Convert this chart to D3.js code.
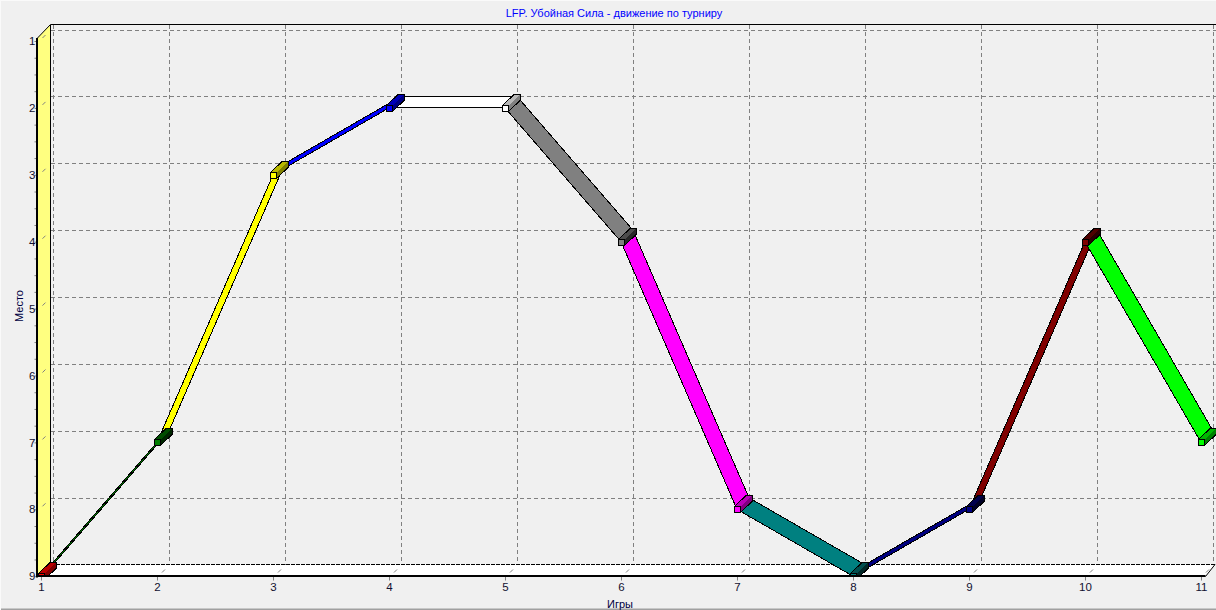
<!DOCTYPE html>
<html>
<head>
<meta charset="utf-8">
<script src="https://cdn.jsdelivr.net/npm/d3@7/dist/d3.min.js"></script>
<style>
html,body{margin:0;padding:0;background:#f0f0f0;overflow:hidden}
svg{display:block}
text{font-family:"Liberation Sans",Arial,sans-serif}
</style>
</head>
<body>
<svg id="chart" width="1216" height="610"></svg>
<script>
const games = [1,2,3,4,5,6,7,8,9,10,11];
const places = [9,7,3,2,2,4,8,9,8,4,7];
const pointColors = ["#ff0000","#008000","#ffff00","#0000ff","#ffffff","#808080","#ff00ff","#008080","#000080","#800000","#00ff00"];
const placeTicks = [1,2,3,4,5,6,7,8,9];
const titleText = "LFP. Убойная Сила - движение по турниру";
const xTitleText = "Игры";
const yTitleText = "Место";

const W = 1216, H = 610;
const dx = 12, dy = -11.5;             // depth of the 3D ribbon
const wallDx = 13.5, wallDy = -12;     // depth of the chart box
const x = d3.scaleLinear().domain([1,11]).range([41,1201]);
const y = d3.scaleLinear().domain([1,9]).range([41,576.2]);
const svg = d3.select("#chart");

const left = 37.5, right = 1205.5, top0 = 38, bottom = 576.5;
const backL = left + wallDx - .5, backT = 24.5, backB = bottom + wallDy;

svg.append("defs").append("clipPath").attr("id","plot")
  .append("rect").attr("x",0).attr("y",0).attr("width",W).attr("height",575.5);

// frame edge of the window
svg.append("rect").attr("width",W).attr("height",H).attr("fill","#f0f0f0");
svg.append("rect").attr("x",0).attr("y",608.5).attr("width",W).attr("height",1.5).attr("fill","#a0a0a0");
svg.append("rect").attr("x",0).attr("y",0).attr("width",W).attr("height",1).attr("fill","#fafafa");
svg.append("rect").attr("x",0).attr("y",0).attr("width",1).attr("height",H).attr("fill","#fafafa");

// walls
svg.append("path").attr("fill","#ffff80").attr("stroke","#000")
  .attr("d",`M${left},${top0}L${backL},${backT}L${backL},${backB}L${left},${bottom}Z`);
svg.append("path").attr("fill","#fff").attr("stroke","none")
  .attr("d",`M${left},${bottom}L${backL},${backB}L${W},${backB}L${right},${bottom}Z`);

// grid on the back plane
const grid = svg.append("g").attr("fill","none").attr("stroke","#808080")
  .attr("stroke-dasharray","4,3").attr("shape-rendering","crispEdges");
grid.selectAll("line.v").data(games).join("line").attr("class","v")
  .attr("x1",d=>Math.round(x(d)+dx)+.5).attr("x2",d=>Math.round(x(d)+dx)+.5)
  .attr("y1",backT).attr("y2",backB);
grid.selectAll("line.h").data(placeTicks.slice(0,-1)).join("line").attr("class","h")
  .attr("x1",backL).attr("x2",W)
  .attr("y1",d=>Math.round(y(d)+dy)+.5).attr("y2",d=>Math.round(y(d)+dy)+.5);

// back edges
svg.append("line").attr("x1",backL).attr("x2",W).attr("y1",backT).attr("y2",backT)
  .attr("stroke","#000").attr("shape-rendering","crispEdges");
svg.append("line").attr("x1",backL).attr("x2",W).attr("y1",backB).attr("y2",backB)
  .attr("stroke","#000").attr("stroke-dasharray","4,1").attr("shape-rendering","crispEdges");
svg.append("line").attr("x1",right).attr("x2",W-1).attr("y1",bottom).attr("y2",backB).attr("stroke","#000");

// small diagonal ticks across the walls
const diag = svg.append("g").attr("stroke","#808080").attr("fill","none");
diag.selectAll("line.dy").data(placeTicks).join("line").attr("class","dy")
  .attr("x1",d=>left+5).attr("y1",d=>y(d)-3).attr("x2",d=>left+8).attr("y2",d=>y(d)-6);
diag.selectAll("line.dx").data(games).join("line").attr("class","dx")
  .attr("x1",d=>x(d)+5).attr("y1",bottom-4).attr("x2",d=>x(d)+8).attr("y2",bottom-7);

const series = svg.append("g").attr("clip-path","url(#plot)").attr("shape-rendering","crispEdges");

// ribbons, coloured by the point they lead to
const pts = games.map((g,i)=>({g,p:places[i],c:pointColors[i]}));
const ribbon = series.append("g").attr("stroke","#000").attr("stroke-width",1);
ribbon.selectAll("path").data(pts.slice(1)).join("path")
  .attr("fill",d=>d.c)
  .attr("d",(d,i)=>{
    const a = pts[i];
    const x0=x(a.g), y0=y(a.p), x1=x(d.g), y1=y(d.p);
    return `M${x0},${y0}L${x0+dx},${y0+dy}L${x1+dx},${y1+dy}L${x1},${y1}Z`;
  });

// box markers
const shade = (c,k)=>{ const o=d3.rgb(c); return d3.rgb(o.r*k,o.g*k,o.b*k).formatHex(); };
const isDark = c=>{ const o=d3.rgb(c); return Math.max(o.r,o.g,o.b)<=128; };
const s = 3;
const box = series.append("g").selectAll("g").data(pts).join("g")
  .attr("transform",d=>`translate(${Math.round(x(d.g))+.5},${Math.round(y(d.p))+.5})`);
box.append("path").attr("fill",d=>shade(d.c,isDark(d.c)?.6:.72))
  .attr("d",`M${-s},${-s}L${-s+dx},${-s+dy}L${s+dx},${-s+dy}L${s},${-s}Z`);
box.append("path").attr("fill",d=>shade(d.c,isDark(d.c)?.3:.5))
  .attr("d",`M${s},${-s}L${s+dx},${-s+dy}L${s+dx},${s+dy}L${s},${s}Z`);
box.append("path").attr("fill","none").attr("stroke","#000")
  .attr("d",`M${-s},${-s}L${-s+dx},${-s+dy}L${s+dx},${-s+dy}L${s+dx},${s+dy}L${s},${s}`);
box.append("rect").attr("x",-s).attr("y",-s).attr("width",2*s).attr("height",2*s)
  .attr("fill",d=>d.c).attr("stroke","#000");

// axes
const minorAxis = d3.axisLeft(y).tickValues(d3.range(1,9.01,.25)).tickSize(2).tickFormat("");
const gMinor = svg.append("g").attr("transform",`translate(${left-1},0)`).call(minorAxis);
gMinor.select(".domain").remove();
gMinor.selectAll("line").attr("stroke","#808080");

const yAxis = d3.axisLeft(y).tickValues(placeTicks).tickSize(0).tickPadding(2).tickFormat(d3.format("d"));
const gY = svg.append("g").attr("transform",`translate(${left},0)`).call(yAxis);
gY.select(".domain").remove();
gY.selectAll("text").attr("font-size",11.5).attr("font-family","Liberation Sans").attr("fill","#101030");

const xAxis = d3.axisBottom(x).tickValues(games).tickSize(4).tickPadding(2).tickFormat(d3.format("d"));
const gX = svg.append("g").attr("transform",`translate(0,${bottom})`).call(xAxis);
gX.select(".domain").remove();
gX.selectAll("line").attr("stroke","#808080");
gX.selectAll("text").attr("font-size",11.5).attr("font-family","Liberation Sans").attr("fill","#101030");

svg.append("rect").attr("x",36).attr("y",top0).attr("width",2).attr("height",bottom-top0+1).attr("fill","#000");
svg.append("rect").attr("x",36).attr("y",575).attr("width",right-36).attr("height",2).attr("fill","#000");

// titles
svg.append("text").attr("x",614).attr("y",17).attr("text-anchor","middle")
  .attr("font-size",11).attr("fill","#0000ff").text(titleText);
svg.append("text").attr("x",620).attr("y",608).attr("text-anchor","middle")
  .attr("font-size",11).attr("fill","#000040").text(xTitleText);
svg.append("text").attr("transform","translate(23,306) rotate(-90)").attr("text-anchor","middle")
  .attr("font-size",11).attr("fill","#000040").text(yTitleText);
</script>
</body>
</html>
